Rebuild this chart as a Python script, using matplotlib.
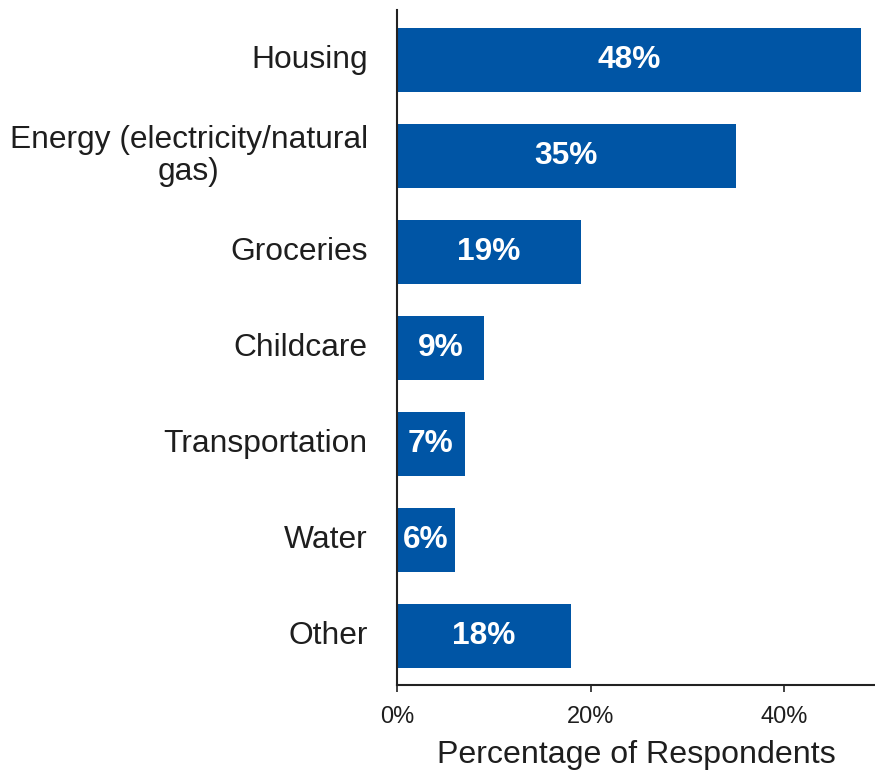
import matplotlib
matplotlib.use("Agg")
import matplotlib.pyplot as plt
from matplotlib.ticker import FuncFormatter

plt.rcParams['font.family'] = ['Liberation Sans', 'DejaVu Sans']

categories = ["Housing", "Energy (electricity/natural\ngas)", "Groceries",
              "Childcare", "Transportation", "Water", "Other"]
values = [48, 35, 19, 9, 7, 6, 18]
x_ticks = [0, 20, 40]

BAR_COLOR = "#0055A5"

fig = plt.figure(figsize=(8.75, 7.72), dpi=100)
ax = fig.add_axes([0.4537, 0.1127, 0.5463, 0.8743])

ypos = list(range(len(categories)))
bars = ax.barh(ypos, values, height=0.667, color=BAR_COLOR)

for b, v in zip(bars, values):
    ax.text(b.get_x() + b.get_width() / 2, b.get_y() + b.get_height() / 2,
            f"{v}%", ha="center", va="center", color="white",
            fontsize=22.8, fontweight="bold")

ax.set_yticks(ypos)
ax.set_yticklabels(categories, fontsize=22.9, multialignment="center",
                   linespacing=1.05)
ax.set_ylim(len(categories) - 0.49, -0.52)
ax.tick_params(axis="y", length=0, pad=21)
for lbl in ax.get_yticklabels():
    lbl.set_va("center")

ax.set_xlim(0, 49.4)
ax.set_xticks(x_ticks)
ax.xaxis.set_major_formatter(FuncFormatter(lambda v, p: f"{v:.0f}%"))
ax.tick_params(axis="x", labelsize=17, length=5, width=1.2, color="#222222", pad=10)
ax.set_xlabel("Percentage of Respondents", fontsize=23.1, color="#1e1e1e", labelpad=9)

for s in ("top", "right"):
    ax.spines[s].set_visible(False)
for s in ("left", "bottom"):
    ax.spines[s].set_linewidth(1.5)
    ax.spines[s].set_color("#222222")

for lbl in ax.get_yticklabels() + ax.get_xticklabels():
    lbl.set_color("#1e1e1e")

fig.savefig("out.png", dpi=100)
